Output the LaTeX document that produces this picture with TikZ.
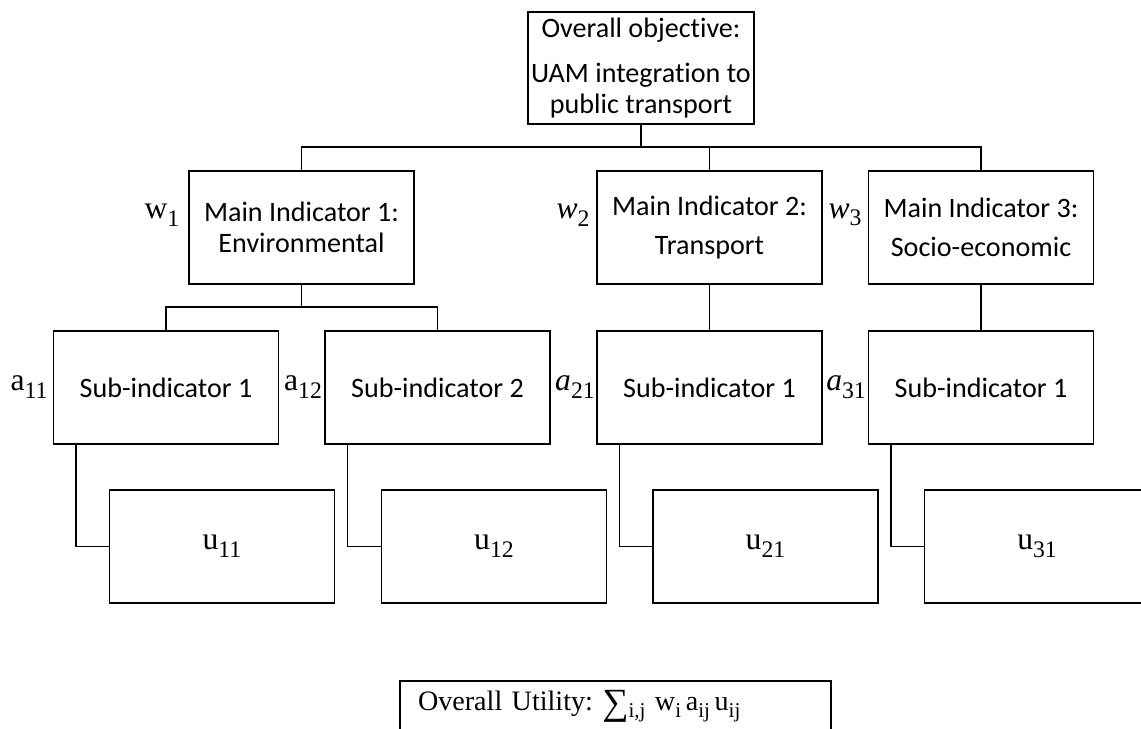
\documentclass[tikz,border=0pt]{standalone}
\usepackage[no-math]{fontspec}
\setmainfont{Carlito}[Ligatures=NoCommon]
\newfontfamily\utilfont{Liberation Serif}
\usetikzlibrary{calc}

% lowered index in text
\newcommand\idx[2][13.5]{\raisebox{-0.24em}{\fontsize{#1}{#1}\selectfont\upshape #2}}

\tikzset{
  box/.style={draw, line width=0.85pt, inner sep=0pt, align=center,
    minimum width=4.5cm, minimum height=2.26cm,
    font=\fontsize{16}{17.5}\selectfont},
  wide/.style={font=\fontsize{16}{22}\selectfont},
  lbl/.style={inner sep=0pt, font=\utilfont\fontsize{18}{20}\selectfont},
  link/.style={line width=0.85pt},
}

\begin{document}
\begin{tikzpicture}[x=0.02cm, y=-0.02cm]
  \clip (0,0) rectangle (1141,729);

  % goal
  \node [box, minimum width=4.52cm, minimum height=2.24cm] (obj) at (641, 68)
    {Overall objective:\\[8pt]UAM integration to\\public transport};

  % main indicators
  \node [box] (main1) at (301.5, 227.5) {Main Indicator 1:\\Environmental};
  \node [box, wide] (main2) at (709.5, 227.5) {Main Indicator 2:\\Transport};
  \node [box, wide] (main3) at (981, 227.5) {Main Indicator 3:\\Socio-economic};

  \node [lbl] (w1) at (162, 215) {w\idx{1}};
  \node [lbl] (w2) at (573, 215) {\itshape w\idx{2}};
  \node [lbl] (w3) at (845, 215) {\itshape w\idx{3}};

  % sub-indicators
  \node [box] (sub11) at (166, 387.5) {Sub-indicator 1};
  \node [box] (sub12) at (437.5, 387.5) {Sub-indicator 2};
  \node [box] (sub21) at (709.5, 387.5) {Sub-indicator 1};
  \node [box] (sub31) at (981, 387.5) {Sub-indicator 1};

  \node [lbl] (a11) at (29, 387) {a\idx{11}};
  \node [lbl] (a12) at (303, 387) {a\idx{12}};
  \node [lbl] (a21) at (575, 387) {\itshape a\idx{21}};
  \node [lbl] (a31) at (846, 387) {\itshape a\idx{31}};

  % utilities
  \node [box, lbl, draw] (u11) at (222, 546.5) {u\idx{11}};
  \node [box, lbl, draw] (u12) at (494, 546.5) {u\idx{12}};
  \node [box, lbl, draw] (u21) at (765.5, 546.5) {u\idx{21}};
  \node [box, lbl, draw] (u31) at (1037, 546.5) {u\idx{31}};

  % tree
  \coordinate (top) at (641, 147);
  \coordinate (env) at (301.5, 307);
  \draw [link] (obj.south) -- (top);
  \draw [link] (main1.north) |- (top) -| (main3.north);
  \draw [link] (main2.north) -- (main2.north |- top);
  \draw [link] (main1.south) -- (env);
  \draw [link] (sub11.north) |- (env) -| (sub12.north);
  \draw [link] (main2.south) -- (sub21.north);
  \draw [link] (main3.south) -- (sub31.north);
  \foreach \s in {11,12,21,31}
    \draw [link] ($(sub\s.south west)+(23,0)$) |- (u\s.west);

  \node [draw, line width=0.85pt, anchor=north, inner ysep=0pt, inner xsep=0.36cm,
    text width=7.9cm, align=left, text height=0.6cm, text depth=0.9cm,
    font=\utilfont\fontsize{16}{20}\selectfont] (util) at (615.5, 680)
    {Overall Utility:\ \raisebox{-0.12em}{\fontsize{21}{21}\selectfont ∑}\idx[12]{i,j}\,\,%
     w\idx[12]{i}\,a\idx[12]{ij}\,u\idx[12]{ij}};
\end{tikzpicture}
\end{document}
